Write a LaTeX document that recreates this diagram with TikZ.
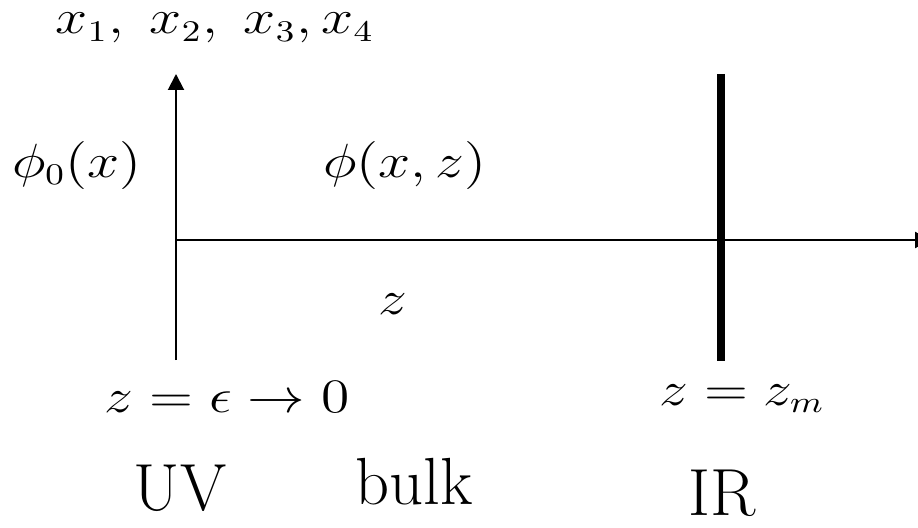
\documentclass[tikz,border=0pt]{standalone}
\usepackage{graphicx}
\usetikzlibrary{arrows.meta}
\newcommand{\stretchmath}[1]{\scalebox{1.2}[1]{$#1$}}
\begin{document}
\begin{tikzpicture}[x=0.3pt,y=-0.3pt,
  mth/.style={inner sep=0pt, anchor=base, font=\fontsize{13.5}{16}\selectfont},
  txt/.style={inner sep=0pt, anchor=base, font=\fontsize{20}{24}\selectfont},
  axis/.style={line width=0.6pt, -{Triangle[length=4.8pt,width=4.8pt]}},
  brane/.style={line width=2.4pt}]
\useasboundingbox (0,0) rectangle (918,527);
\coordinate (o) at (176,240);
\coordinate (vb) at (176,360);
\coordinate (vt) at (176,74);
\coordinate (ht) at (931,240);
\coordinate (bt) at (721,74);
\coordinate (bb) at (721,361);
\draw[axis] (vb) -- (vt);
\draw[axis] (o) -- (ht);
\draw[brane] (bt) -- (bb);
\node[mth] (xl) at (215,34) {\stretchmath{x_1,\hspace{0.3em}x_2,\hspace{0.3em}x_3,x_4}};
\node[mth] (p0) at (77,177) {\stretchmath{\phi_0(x)}};
\node[mth] (pxz) at (405,177) {\stretchmath{\phi(x,z)}};
\node[mth] (zl) at (393,314) {\stretchmath{z}};
\node[mth] (uvc) at (227,412) {\stretchmath{z=\epsilon\to 0}};
\node[mth] (irc) at (742,405) {\stretchmath{z=z_m}};
\node[txt] (uv) at (180,510) {UV};
\node[txt] (bulk) at (414,504) {bulk};
\node[txt] (ir) at (722,515) {IR};
\end{tikzpicture}
\end{document}
